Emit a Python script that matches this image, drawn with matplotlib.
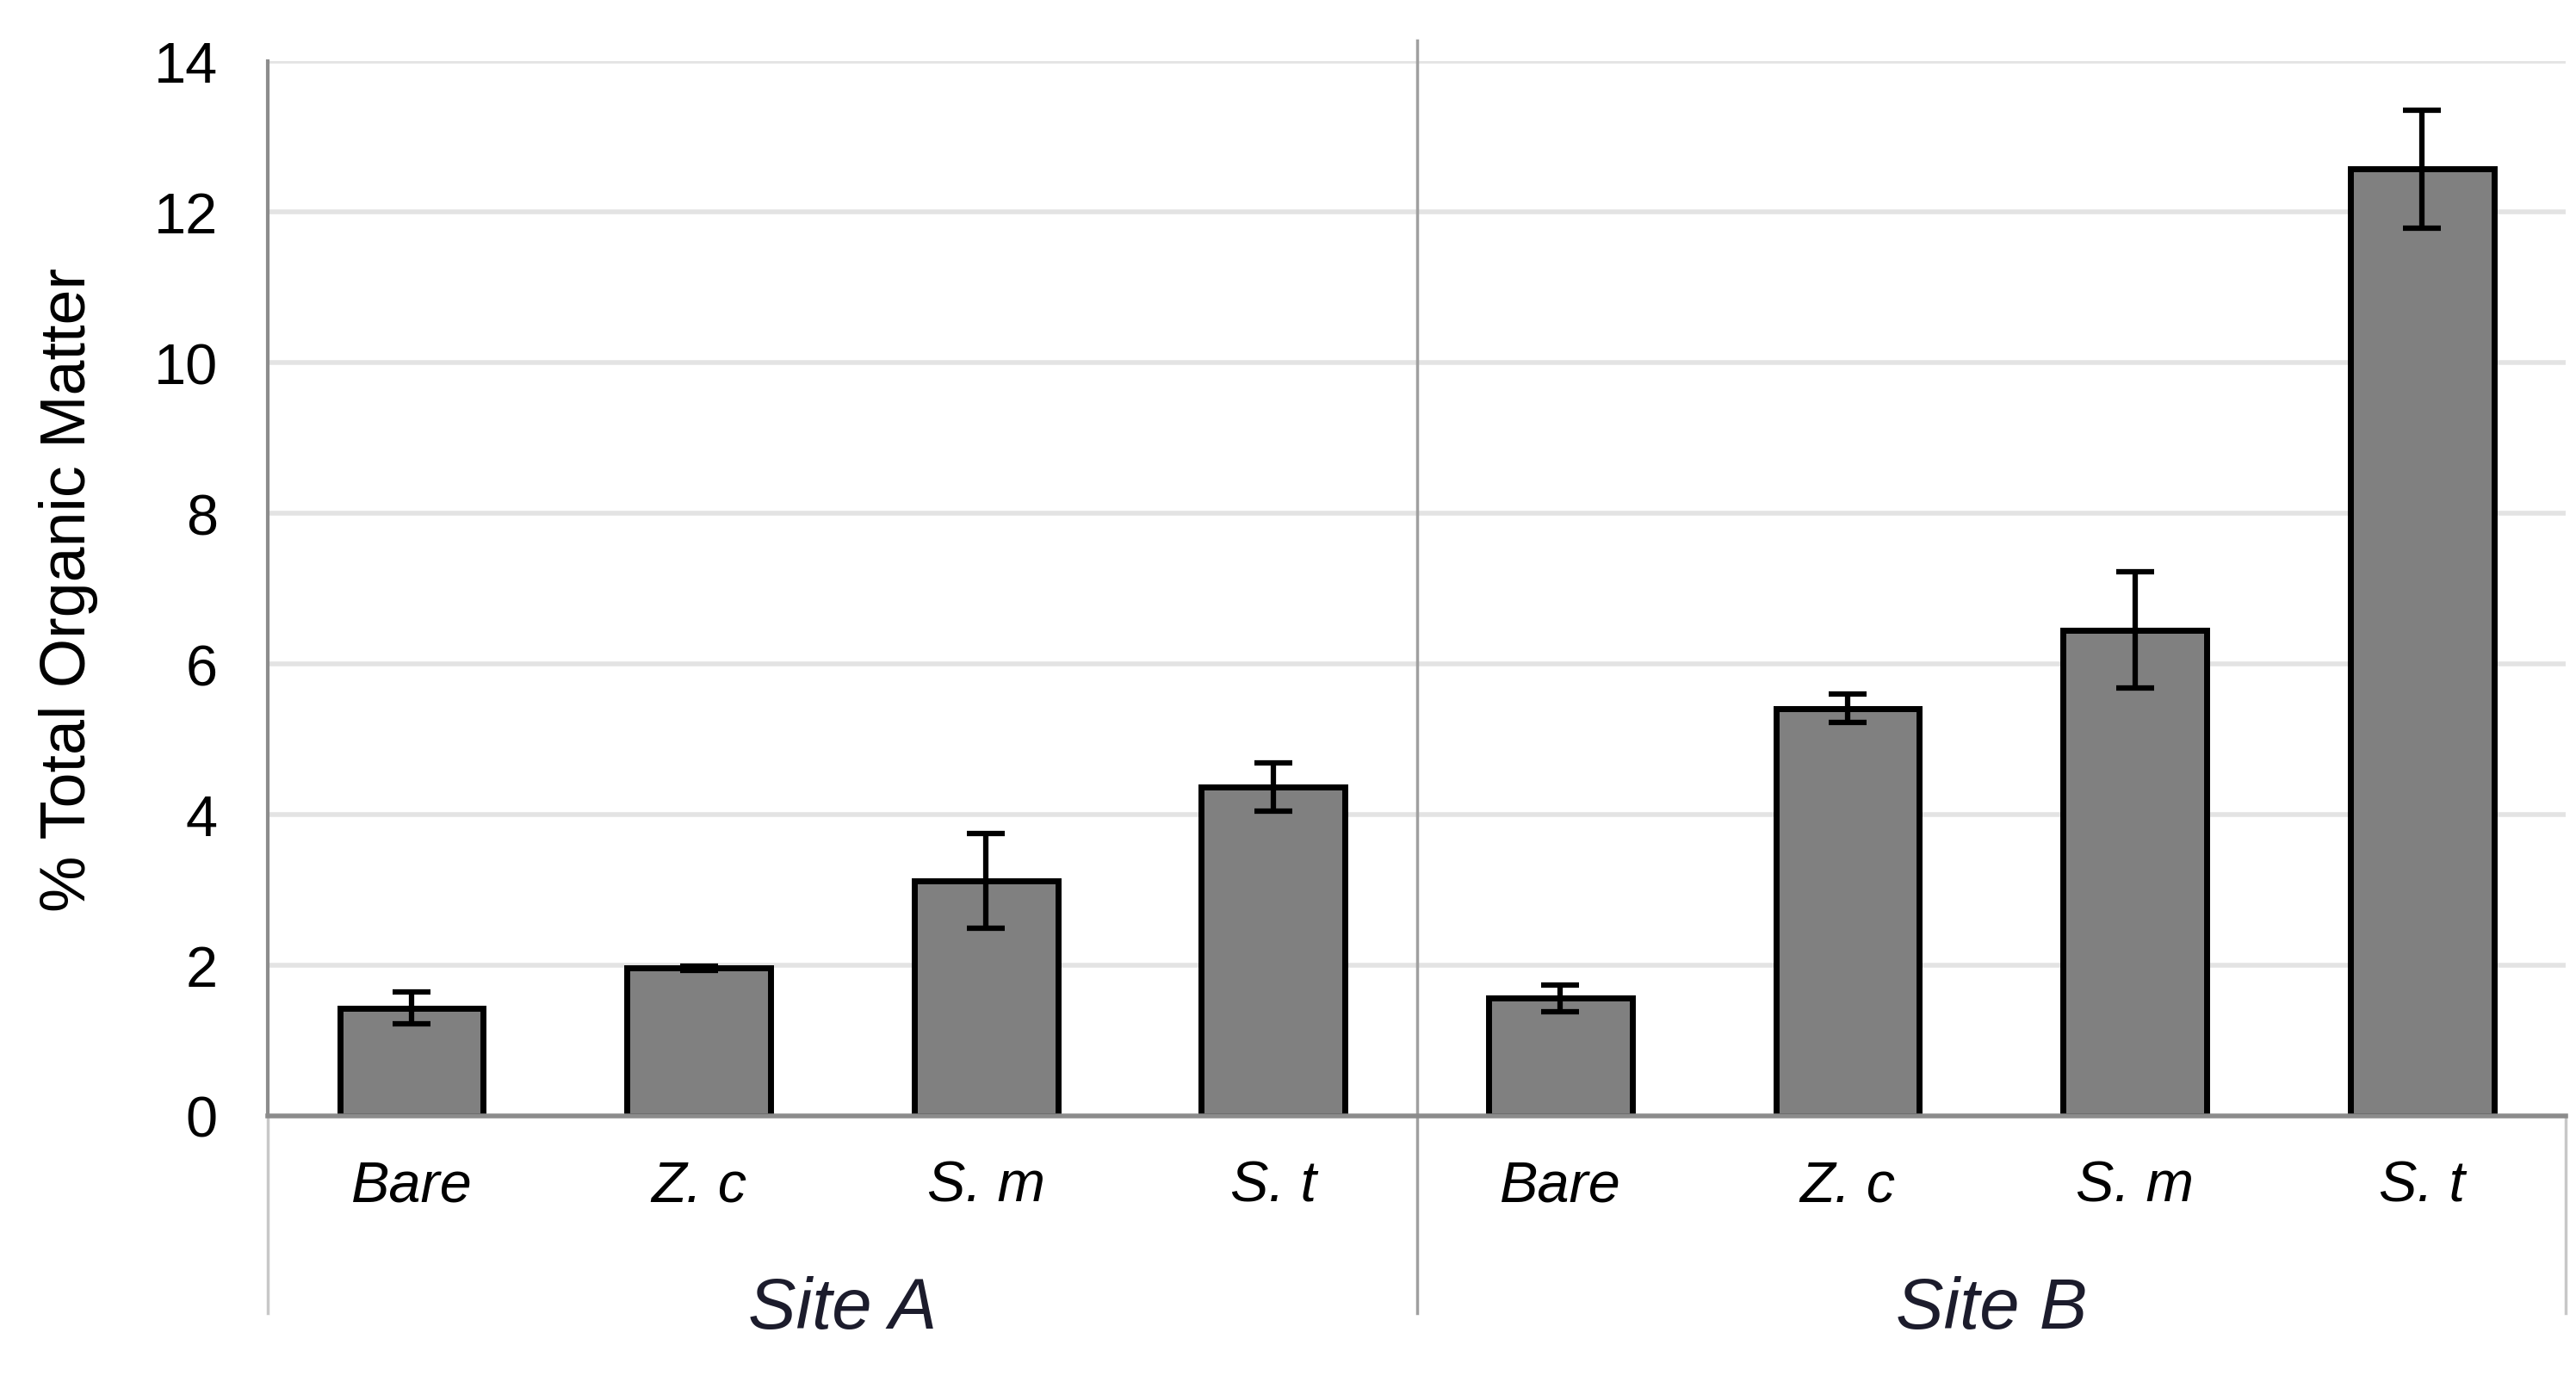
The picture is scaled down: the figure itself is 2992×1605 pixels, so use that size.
import numpy as np
import matplotlib
matplotlib.use("Agg")
import matplotlib.pyplot as plt

plt.rcParams["font.family"] = ["Liberation Sans", "DejaVu Sans"]

# data
sites = ["Site A", "Site B"]
categories = ["Bare", "Z. c", "S. m", "S. t"]
site_a_mean = [1.43, 1.96, 3.12, 4.37]
site_a_err = [0.21, 0.03, 0.63, 0.32]
site_b_mean = [1.56, 5.41, 6.45, 12.57]
site_b_err = [0.18, 0.19, 0.77, 0.78]
y_ticks = [0, 2, 4, 6, 8, 10, 12, 14]

means = site_a_mean + site_b_mean
errs = site_a_err + site_b_err
labels = categories + categories
x = np.arange(len(means))

fig = plt.figure(figsize=(29.92, 16.06), dpi=100)
ax = fig.add_axes([0.104, 0.1925, 0.892, 0.7625])

grid_c = "#e3e3e3"
axis_c = "#8c8c8c"

for t in y_ticks[1:]:
    ax.axhline(t, color=grid_c, lw=4, zorder=0)

ax.bar(x, means, width=0.5, color="#808080", edgecolor="black", linewidth=5, zorder=2)
ax.errorbar(x, means, yerr=errs, fmt="none", ecolor="black", elinewidth=4.5,
            capsize=16, capthick=4.5, zorder=3)

ax.set_xlim(-0.5, len(means) - 0.5)
ax.set_ylim(0, 14)
ax.set_yticks(y_ticks)
ax.set_yticklabels([str(t) for t in y_ticks], fontsize=48)
ax.tick_params(axis="y", length=0, pad=42)
ax.set_xticks([])

for s in ["top", "right"]:
    ax.spines[s].set_visible(False)
ax.spines["left"].set_color(axis_c)
ax.spines["left"].set_linewidth(3)
ax.spines["bottom"].set_color(axis_c)
ax.spines["bottom"].set_linewidth(4)

trans = ax.get_xaxis_transform()
# group separators under the axis
low = -0.187
ax.plot([-0.5, -0.5], [low, 0], color="#c8c8c8", lw=2.5, transform=trans, clip_on=False)
ax.plot([3.5, 3.5], [low, 1.02], color="#a0a0a0", lw=2.5, transform=trans, clip_on=False)
ax.plot([7.5, 7.5], [low, 0], color="#c8c8c8", lw=2.5, transform=trans, clip_on=False)

for xi, lab in zip(x, labels):
    ax.text(xi, -0.067, lab, transform=trans, ha="center", va="center",
            fontsize=48, style="italic")

for i, s in enumerate(sites):
    ax.text(1.5 + 4 * i, -0.183, s, transform=trans, ha="center", va="center",
            fontsize=60, style="italic", color="#1c1c2c")

ax.set_ylabel("% Total Organic Matter", fontsize=53)
ax.yaxis.set_label_coords(-0.074, 0.5)

plt.savefig("out.png", dpi=100)
plt.close()
